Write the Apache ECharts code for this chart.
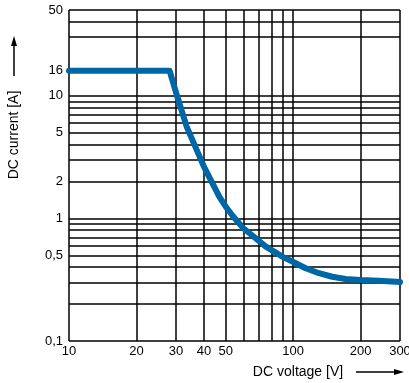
<!DOCTYPE html>
<html>
<head>
<meta charset="utf-8">
<script src="https://cdn.jsdelivr.net/npm/echarts@6/dist/echarts.min.js"></script>
<style>
  html, body { margin: 0; padding: 0; background: #fff; }
  #chart { width: 409px; height: 383px; }
</style>
</head>
<body>
<div id="chart"></div>
<script>
// derating curve
var voltage = [10, 28.1, 30.1, 33.5, 40, 46.9, 50, 53.7, 60, 75.6, 89.6, 102.8, 113.8, 130.5, 149.5, 171.5, 200, 241, 300];
var current = [16, 16, 10.5, 5.6, 2.64, 1.5, 1.25, 1.05, 0.83, 0.588, 0.487, 0.43, 0.392, 0.357, 0.334, 0.32, 0.314, 0.31, 0.303];

// grid lines and tick labels
var gridX = [10, 20, 30, 40, 50, 60, 70, 80, 90, 100, 200, 300];
var labelsX = [10, 20, 30, 40, 50, 100, 200, 300];
var gridY = [0.1, 0.2, 0.3, 0.4, 0.5, 0.6, 0.7, 0.8, 0.9, 1, 2, 3, 4, 5, 6, 7, 8, 9, 10, 30, 40, 50];
var labelsY = [0.1, 0.5, 1, 2, 5, 10, 16, 50];

function fmt(v) { return String(v).replace('.', ','); }

var myChart = echarts.init(document.getElementById('chart'));

var lineData = [];
gridX.forEach(function (v) {
    lineData.push({
        xAxis: v,
        label: { show: labelsX.indexOf(v) >= 0, position: 'start', distance: 4, formatter: fmt(v) }
    });
});
gridY.forEach(function (v) {
    lineData.push({
        yAxis: v,
        label: { show: labelsY.indexOf(v) >= 0, position: 'start', distance: 6, formatter: fmt(v) }
    });
});
// 16 A gets a label but no grid line
labelsY.forEach(function (v) {
    if (gridY.indexOf(v) < 0) {
        lineData.push({
            yAxis: v,
            lineStyle: { color: 'rgba(0,0,0,0)' },
            label: { show: true, position: 'start', distance: 6, color: '#000', formatter: fmt(v) }
        });
    }
});

var option = {
    animation: false,
    backgroundColor: '#fff',
    textStyle: { fontFamily: 'Liberation Sans' },
    grid: { left: 69, right: 9, top: 10, bottom: 42 },
    xAxis: {
        type: 'log',
        min: 10,
        max: 300,
        axisLine: { show: false },
        axisTick: { show: false },
        axisLabel: { show: false },
        splitLine: { show: false }
    },
    yAxis: {
        type: 'log',
        min: 0.1,
        max: 50,
        axisLine: { show: false },
        axisTick: { show: false },
        axisLabel: { show: false },
        splitLine: { show: false }
    },
    graphic: [
        {
            type: 'text',
            x: 14, y: 135, rotation: Math.PI / 2,
            style: { text: 'DC current [A]', font: '14px Liberation Sans', fill: '#000', align: 'center', verticalAlign: 'middle' }
        },
        { type: 'line', shape: { x1: 14, y1: 76, x2: 14, y2: 44 }, style: { stroke: '#000', lineWidth: 1.5 } },
        { type: 'polygon', shape: { points: [[14, 36], [11, 46], [17, 46]] }, style: { fill: '#000' } },
        {
            type: 'text',
            x: 298, y: 372,
            style: { text: 'DC voltage [V]', font: '14px Liberation Sans', fill: '#000', align: 'center', verticalAlign: 'middle' }
        },
        { type: 'line', shape: { x1: 356, y1: 372, x2: 396, y2: 372 }, style: { stroke: '#000', lineWidth: 1.5 } },
        { type: 'polygon', shape: { points: [[404, 372], [394, 369], [394, 375]] }, style: { fill: '#000' } }
    ],
    series: [
        {
            type: 'line',
            z: 1,
            data: [],
            markLine: {
                silent: true,
                symbol: ['none', 'none'],
                animation: false,
                lineStyle: { color: '#000', width: 1.5, type: 'solid' },
                label: { color: '#000', fontSize: 13, fontFamily: 'Liberation Sans' },
                emphasis: { disabled: true },
                data: lineData
            }
        },
        {
            name: 'DC current',
            type: 'line',
            z: 5,
            showSymbol: false,
            smooth: false,
            lineStyle: { color: '#0067a7', width: 6, cap: 'round', join: 'round' },
            data: voltage.map(function (v, i) { return [v, current[i]]; })
        }
    ]
};
myChart.setOption(option);
</script>
</body>
</html>
